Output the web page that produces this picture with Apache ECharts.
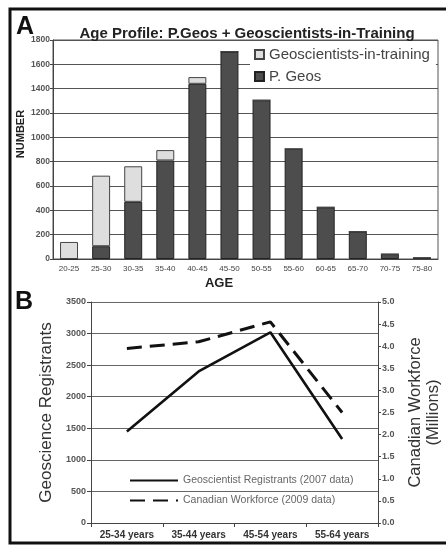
<!DOCTYPE html>
<html>
<head>
<meta charset="utf-8">
<script src="https://cdn.jsdelivr.net/npm/echarts@6/dist/echarts.min.js"></script>
<style>
html,body{margin:0;padding:0;background:#fff;}
#c{width:446px;height:545px;}
</style>
</head>
<body>
<div id="c"></div>
<script>
// Panel A data
var ageBins = ['20-25','25-30','30-35','35-40','40-45','45-50','50-55','55-60','60-65','65-70','70-75','75-80'];
var pGeos = [0, 105, 470, 810, 1440, 1705, 1305, 905, 425, 225, 40, 10];
var inTraining = [140, 580, 292, 85, 55, 0, 0, 0, 0, 0, 0, 0];
var numberTicks = [0, 200, 400, 600, 800, 1000, 1200, 1400, 1600, 1800];

// Panel B data
var ageGroups = ['25-34 years','35-44 years','45-54 years','55-64 years'];
var registrants2007 = [1450, 2400, 3020, 1330];
var workforce2009 = [3.95, 4.1, 4.55, 2.5];

var F = 'Liberation Sans, Arial, sans-serif';
var chart = echarts.init(document.getElementById('c'), null, {renderer: 'canvas'});
var option = {
  backgroundColor: '#fff',
  animation: false,
  textStyle: {fontFamily: F},
  title: [{
    text: 'Age Profile: P.Geos + Geoscientists-in-Training',
    left: 242, top: 21, textAlign: 'center',
    textStyle: {fontSize: 15, fontWeight: 'bold', color: '#222', fontFamily: F}
  }],
  grid: [
    {left: 53, right: 8, top: 40, bottom: 286, show: true, borderColor: '#555', borderWidth: 1,
      backgroundColor: 'transparent', outerBoundsMode: 'none', containLabel: false},
    {left: 91, right: 68, top: 302, bottom: 22, outerBoundsMode: 'none', containLabel: false}
  ],
  legend: [{
    data: ['Geoscientists-in-training', 'P. Geos'],
    orient: 'vertical', left: 250, top: 44,
    padding: [3, 6, 3, 4],
    backgroundColor: '#fff',
    icon: 'rect', itemWidth: 9, itemHeight: 9, itemGap: 7,
    textStyle: {fontSize: 15, color: '#444', fontFamily: F}
  }, {
    data: ['Geoscientist Registrants (2007 data)', 'Canadian Workforce (2009 data)'],
    orient: 'vertical', left: 124, top: 470,
    itemWidth: 48, itemHeight: 12, itemGap: 9,
    itemStyle: {opacity: 0},
    textStyle: {fontSize: 10.5, color: '#666', fontFamily: F}
  }],
  xAxis: [{
    type: 'category', gridIndex: 0, data: ageBins,
    axisLine: {lineStyle: {color: '#444'}},
    axisTick: {show: false},
    axisLabel: {fontSize: 8, color: '#444', margin: 6, interval: 0}
  }, {
    type: 'category', gridIndex: 1, data: ageGroups, boundaryGap: true,
    axisLine: {lineStyle: {color: '#444', width: 1.2}},
    axisTick: {show: true, length: 4, lineStyle: {color: '#444'}},
    axisLabel: {fontSize: 10, fontWeight: 'bold', color: '#333', margin: 7, interval: 0}
  }],
  yAxis: [{
    type: 'value', gridIndex: 0, min: 0, max: 1800, interval: 200,
    axisLine: {show: true, lineStyle: {color: '#444'}},
    axisTick: {show: true, length: 3, lineStyle: {color: '#444'}},
    axisLabel: {fontSize: 8.5, fontWeight: 'bold', color: '#555', margin: 3,
      formatter: function(v){ return numberTicks.indexOf(v) >= 0 ? String(v) : ''; }},
    splitLine: {lineStyle: {color: '#555', width: 1}}
  }, {
    type: 'value', gridIndex: 1, min: 0, max: 3500, interval: 500,
    axisLine: {show: true, lineStyle: {color: '#444'}},
    axisTick: {show: true, length: 4, lineStyle: {color: '#444'}},
    axisLabel: {fontSize: 9, fontWeight: 'bold', color: '#555', margin: 5,
      formatter: function(v){ return String(v); }},
    splitLine: {lineStyle: {color: '#666', width: 1}},
    name: 'Geoscience Registrants', nameLocation: 'middle', nameGap: 31, nameRotate: 90,
    nameTextStyle: {fontSize: 17, color: '#333', fontFamily: F}
  }, {
    type: 'value', gridIndex: 1, position: 'right', min: 0, max: 5, interval: 0.5,
    axisLine: {show: true, lineStyle: {color: '#444'}},
    axisTick: {show: true, length: 3, lineStyle: {color: '#444'}},
    axisLabel: {fontSize: 9, fontWeight: 'bold', color: '#555', margin: 4,
      formatter: function(v){ return v.toFixed(1); }},
    splitLine: {show: false},
    name: 'Canadian Workforce\n(Millions)', nameLocation: 'middle', nameGap: 28, nameRotate: 90,
    nameTextStyle: {fontSize: 16.5, color: '#333', fontFamily: F, lineHeight: 18}
  }],
  series: [{
    name: 'P. Geos', type: 'bar', stack: 'a', xAxisIndex: 0, yAxisIndex: 0,
    data: pGeos, barWidth: '56%',
    itemStyle: {color: '#4d4d4d', borderColor: '#222', borderWidth: 1}
  }, {
    name: 'Geoscientists-in-training', type: 'bar', stack: 'a', xAxisIndex: 0, yAxisIndex: 0,
    data: inTraining, barWidth: '56%',
    itemStyle: {color: '#dedede', borderColor: '#444', borderWidth: 1}
  }, {
    name: 'Geoscientist Registrants (2007 data)', type: 'line', xAxisIndex: 1, yAxisIndex: 1,
    data: registrants2007, symbol: 'none',
    lineStyle: {color: '#111', width: 2.6, type: 'solid'},
    itemStyle: {color: '#111'}
  }, {
    name: 'Canadian Workforce (2009 data)', type: 'line', xAxisIndex: 1, yAxisIndex: 2,
    data: workforce2009, symbol: 'none',
    lineStyle: {color: '#111', width: 3, type: [15, 8]},
    itemStyle: {color: '#111'}
  }],
  graphic: [
    {type: 'text', left: 16, top: 15, style: {text: 'A', font: 'bold 25px ' + F, fill: '#111'}},
    {type: 'text', left: 15, top: 290, style: {text: 'B', font: 'bold 25px ' + F, fill: '#111'}},
    {type: 'text', x: 21, y: 134, rotation: Math.PI / 2,
      style: {text: 'NUMBER', font: 'bold 11px ' + F, fill: '#222', textAlign: 'center', textVerticalAlign: 'middle'}},
    {type: 'text', x: 219, y: 283,
      style: {text: 'AGE', font: 'bold 13px ' + F, fill: '#222', textAlign: 'center', textVerticalAlign: 'middle'}},
    {type: 'polyline', shape: {points: [[446, 9], [10, 9], [10, 543], [446, 543]]},
      style: {stroke: '#111', lineWidth: 3, fill: null}}
  ]
};
chart.setOption(option);
</script>
</body>
</html>
